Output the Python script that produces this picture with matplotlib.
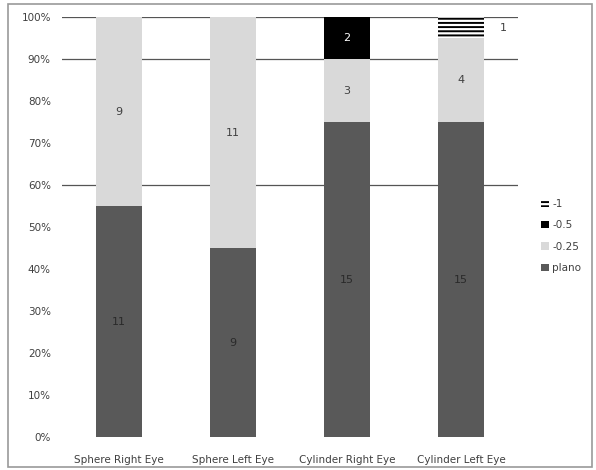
import matplotlib
matplotlib.use('Agg')
import matplotlib.pyplot as plt
from matplotlib.patches import Rectangle

# Counts per group (out of 20 eyes)
categories = ["Sphere Right Eye", "Sphere Left Eye", "Cylinder Right Eye", "Cylinder Left Eye"]
plano = [11, 9, 15, 15]
minus_025 = [9, 11, 3, 4]
minus_05 = [0, 0, 2, 0]
minus_1 = [0, 0, 0, 1]
y_ticks = [0, 10, 20, 30, 40, 50, 60, 70, 80, 90, 100]
grid_levels = [60, 90, 100]

plt.rcParams['hatch.linewidth'] = 1.4
plt.rcParams['font.family'] = ['DejaVu Sans']

series = [
    ("plano", plano, "#595959", None, "#2a2a2a"),
    ("-0.25", minus_025, "#d9d9d9", None, "#404040"),
    ("-0.5", minus_05, "#000000", None, "#ffffff"),
    ("-1", minus_1, "#ffffff", "----", "#404040"),
]

totals = [sum(v) for v in zip(plano, minus_025, minus_05, minus_1)]

fig = plt.figure(figsize=(5.96, 4.70), dpi=100)
ax = fig.add_axes([0.104, 0.070, 0.765, 0.893])

x = list(range(len(categories)))
bottoms = [0.0] * len(categories)
handles = {}
for name, vals, color, hatch, tcolor in series:
    pct = [100.0 * v / t for v, t in zip(vals, totals)]
    bars = ax.bar(x, pct, bottom=bottoms, width=0.41, color=color,
                  hatch=hatch, edgecolor='black' if hatch else color,
                  linewidth=0, zorder=3, label=name)
    handles[name] = bars
    for i, (v, p) in enumerate(zip(vals, pct)):
        if v == 0:
            continue
        ymid = bottoms[i] + p / 2
        if name == "-1":
            ax.text(i + 0.37, ymid, str(v), ha='center', va='center',
                    fontsize=8, color=tcolor, zorder=4)
        else:
            ax.text(i, ymid, str(v), ha='center', va='center',
                    fontsize=8, color=tcolor, zorder=4)
    bottoms = [b + p for b, p in zip(bottoms, pct)]

for g in grid_levels:
    ax.axhline(g, color='#555555', linewidth=0.9, zorder=1)

ax.set_xlim(-0.5, len(categories) - 0.5)
ax.set_ylim(0, 100)
ax.set_yticks(y_ticks)
ax.set_yticklabels([f"{t}%" for t in y_ticks], fontsize=7.5, color='#404040')
ax.set_xticks(x)
ax.set_xticklabels(categories, fontsize=7.5, color='#404040')
ax.tick_params(axis='y', length=0, pad=8)
ax.tick_params(axis='x', length=0, pad=13)
for s in ax.spines.values():
    s.set_visible(False)

order = ["-1", "-0.5", "-0.25", "plano"]
fig.legend([handles[n] for n in order], order, loc='center left',
           bbox_to_anchor=(0.892, 0.498), frameon=False, fontsize=7.5,
           handlelength=0.8, handleheight=0.7, handletextpad=0.3,
           labelspacing=1.1, labelcolor='#404040')

# outer frame
fig.patches.append(Rectangle((8 / 596, 3 / 470), 584 / 596, 463 / 470,
                             transform=fig.transFigure, fill=False,
                             edgecolor='#999999', linewidth=1.2))

fig.savefig("out.png", dpi=100)
